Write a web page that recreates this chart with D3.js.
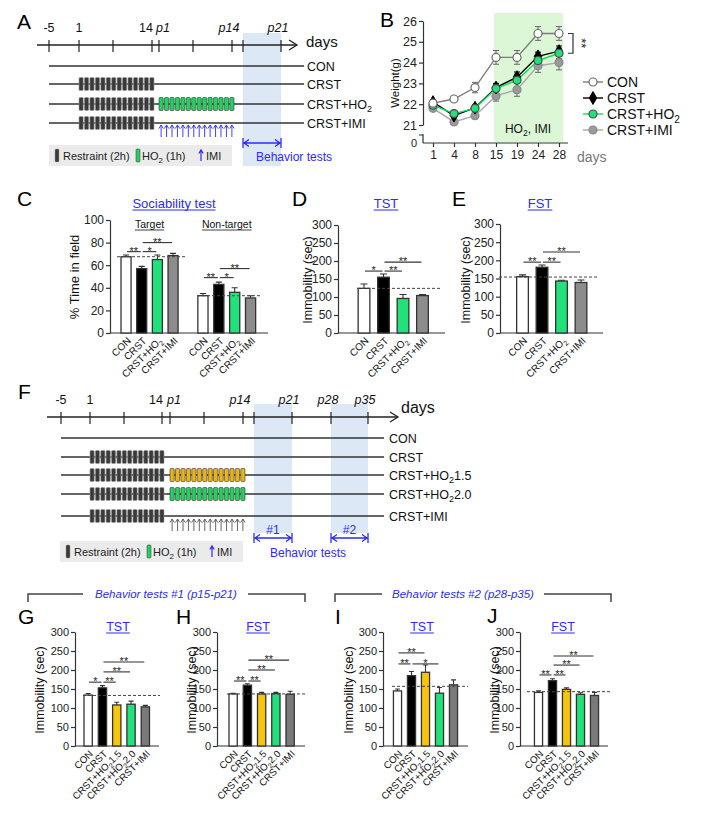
<!DOCTYPE html>
<html><head><meta charset="utf-8">
<script src="https://cdn.jsdelivr.net/npm/d3@7/dist/d3.min.js"></script>
<style>html,body{margin:0;padding:0;background:#fff}</style>
</head><body>
<svg id="fig" width="705" height="813" style="font-family:'Liberation Sans',Arial,sans-serif"></svg>
<script>
// ================= DATA =================
// Timelines (A, F): day axis (post days pN are coded as 14+N)
const aTickDays   = [-5, 1, 7, 14, 15, 22, 28, 29, 35];
const aTickLabels = ["-5", "1", "", "14", "p1", "", "p14", "", "p21"];
const aGroups     = ["CON", "CRST", "CRST+HO₂", "CRST+IMI"];
const aRestraintRows = [1, 2, 3];
const aTreatRows  = [{row: 2, kind: "HO2"}];
const aImiRows    = [3];
const aWindows    = [[29, 35]];
const aWindowLabels = [""];

const fTickDays   = [-5, 1, 7, 14, 15, 21, 28, 29, 35, 42, 49];
const fTickLabels = ["-5", "1", "", "14", "p1", "", "p14", "", "p21", "p28", "p35"];
const fGroups     = ["CON", "CRST", "CRST+HO₂1.5", "CRST+HO₂2.0", "CRST+IMI"];
const fRestraintRows = [1, 2, 3, 4];
const fTreatRows  = [{row: 2, kind: "HO2_15"}, {row: 3, kind: "HO2"}];
const fImiRows    = [4];
const fWindows    = [[29, 35], [42, 49]];
const fWindowLabels = ["#1", "#2"];

const restraintDays = [1, 2, 3, 4, 5, 6, 7, 8, 9, 10, 11, 12, 13, 14];
const treatDays     = [15, 16, 17, 18, 19, 20, 21, 22, 23, 24, 25, 26, 27, 28];

// Panel B: body weight
const bDays   = ["1", "4", "8", "15", "19", "24", "28"];
const bSeries = ["CON", "CRST", "CRST+HO₂", "CRST+IMI"];
const bCON    = [22.05, 22.25, 22.8, 24.25, 24.25, 25.4, 25.4];
const bCRST   = [22.1, 21.45, 21.83, 22.8, 23.3, 24.3, 24.55];
const bHO2    = [21.95, 21.55, 21.8, 22.75, 23.15, 24.1, 24.45];
const bIMI    = [21.8, 21.15, 21.45, 22.4, 22.7, 23.85, 24.0];
const bErrCON  = [0.1, 0.1, 0.25, 0.33, 0.33, 0.33, 0.33];
const bErrCRST = [0.12, 0.2, 0.15, 0.2, 0.25, 0.2, 0.25];
const bErrHO2  = [0.12, 0.15, 0.15, 0.2, 0.3, 0.25, 0.25];
const bErrIMI  = [0.1, 0.12, 0.15, 0.25, 0.32, 0.32, 0.35];
const bYTicks  = [21, 22, 23, 24, 25, 26];

// Panels C-E
const groups4 = ["CON", "CRST", "CRST+HO₂", "CRST+IMI"];
const cTarget    = [67.5, 57, 65, 68.5];
const cTargetErr = [1.5, 2, 4, 2];
const cNon       = [33, 43, 36, 31];
const cNonErr    = [2, 2, 4, 2];
const cTargetSig = [[0, 1, "**", 72], [1, 2, "*", 72], [1, 3, "**", 80]];
const cNonSig    = [[0, 1, "**", 49], [1, 2, "*", 49], [1, 3, "**", 57]];
const cTicks = [0, 20, 40, 60, 80, 100];
const dVals = [124, 155, 96, 104];
const dErr  = [12, 9, 11, 3];
const dSig  = [[0, 1, "*", 172], [1, 2, "**", 172], [1, 3, "**", 197]];
const dDash = 124;
const eVals = [155, 181, 143, 139];
const eErr  = [5, 6, 2, 7];
const eSig  = [[0, 1, "**", 195], [1, 2, "**", 195], [1, 3, "**", 223]];
const eDash = 154;
const immTicks = [0, 50, 100, 150, 200, 250, 300];

// Panels G-J
const groups5 = ["CON", "CRST", "CRST+HO₂1.5", "CRST+HO₂2.0", "CRST+IMI"];
const gVals = [134, 153, 108, 110, 103];
const gErr  = [4, 6, 7, 8, 4];
const gSig  = [[0, 1, "*", 168], [1, 2, "**", 168], [1, 3, "**", 195], [1, 4, "**", 221]];
const gDash = 133;
const hVals = [137, 160, 137, 138, 136];
const hErr  = [2, 4, 4, 3, 8];
const hSig  = [[0, 1, "**", 171], [1, 2, "**", 171], [1, 3, "**", 200], [1, 4, "**", 226]];
const hDash = 137;
const iVals = [145, 185, 194, 139, 161];
const iErr  = [5, 11, 19, 15, 13];
const iSig  = [[0, 1, "**", 216], [1, 3, "*", 216], [0, 2, "**", 245]];
const iDash = 157;
const jVals = [141, 172, 149, 136, 133];
const jErr  = [4, 5, 4, 4, 8];
const jSig  = [[0, 1, "**", 187], [1, 2, "**", 187], [1, 3, "**", 213], [1, 4, "**", 237]];
const jDash = 143;

// ================= STYLE =================
const BLUE = "#2b2bff";
const GREEN = "#22e07a";
const YELLOW = "#f7c60c";
const colors4 = ["#ffffff", "#000000", GREEN, "#8c8c8c"];
const colors5 = ["#ffffff", "#000000", YELLOW, GREEN, "#7a7a7a"];
const treatColor = {HO2: "#24d060", HO2_15: "#e8b416"};

const svg = d3.select("#fig");

function rich(t, str, fs) {
  const parts = str.split("₂");
  let shift = 0;
  parts.forEach((p, i) => {
    if (p) { const s = t.append("tspan").text(p); if (shift) { s.attr("dy", -shift); shift = 0; } }
    if (i < parts.length - 1) {
      const d = fs * 0.28;
      t.append("tspan").attr("font-size", fs * 0.72).attr("dy", d).text("2");
      shift = d;
    }
  });
}
function txt(g, x, y, str, o = {}) {
  const fs = o.fs || 12;
  const t = g.append("text").attr("x", x).attr("y", y).attr("font-size", fs)
    .attr("fill", o.fill || "#111").attr("text-anchor", o.anchor || "start");
  if (o.italic) t.attr("font-style", "italic");
  if (o.transform) t.attr("transform", o.transform);
  if (o.dy) t.attr("dy", o.dy);
  rich(t, str, fs);
  return t;
}
function underlineTitle(g, x, y, str, fs) {
  const t = txt(g, x, y, str, {fs, fill: BLUE, anchor: "middle"});
  const w = t.node().getComputedTextLength();
  g.append("line").attr("x1", x - w / 2).attr("x2", x + w / 2).attr("y1", y + 2).attr("y2", y + 2)
    .attr("stroke", BLUE).attr("stroke-width", 1);
}
function letter(x, y, s) { txt(svg, x, y, s, {fs: 21, fill: "#000"}); }
function upArrow(g, x, y0, y1, color, w) {
  g.append("path").attr("d", `M${x},${y1}V${y0}M${x - 2.2},${y0 + 3.5}L${x},${y0}L${x + 2.2},${y0 + 3.5}`)
    .attr("stroke", color).attr("stroke-width", w || 1).attr("fill", "none");
}
function dblArrow(g, x0, x1, y, color) {
  g.append("path").attr("d",
    `M${x0},${y - 5}V${y + 5}M${x1},${y - 5}V${y + 5}M${x0 + 1},${y}H${x1 - 1}` +
    `M${x0 + 6},${y - 3.5}L${x0 + 1},${y}L${x0 + 6},${y + 3.5}M${x1 - 6},${y - 3.5}L${x1 - 1},${y}L${x1 - 6},${y + 3.5}`)
    .attr("stroke", color).attr("stroke-width", 1.3).attr("fill", "none");
}

// ================= TIMELINES =================
function drawTimeline(L, T) {
  const g = svg.append("g");
  const x = d3.scaleLinear().domain(T.tickDays).range(L.range);
  T.windows.forEach(w => {
    g.append("rect").attr("x", x(w[0])).attr("y", L.winY[0]).attr("width", x(w[1]) - x(w[0]))
      .attr("height", L.winY[1] - L.winY[0]).attr("fill", "#dce8f5");
  });
  g.append("line").attr("x1", L.axisX0).attr("x2", L.axisX1).attr("y1", L.axisY).attr("y2", L.axisY)
    .attr("stroke", "#222").attr("stroke-width", 1.3);
  g.append("path").attr("d", `M${L.axisX1 - 8},${L.axisY - 5}L${L.axisX1},${L.axisY}L${L.axisX1 - 8},${L.axisY + 5}`)
    .attr("stroke", "#222").attr("stroke-width", 1.3).attr("fill", "none");
  T.tickDays.forEach((d, i) => {
    g.append("line").attr("x1", x(d)).attr("x2", x(d)).attr("y1", L.axisY - 5).attr("y2", L.axisY + 7)
      .attr("stroke", "#222").attr("stroke-width", 1.2);
    const lab = T.tickLabels[i];
    if (!lab) return;
    const isP = lab[0] === "p";
    let anchor = "middle", dx = 0;
    if (lab === "14") { anchor = "end"; dx = 1; }
    else if (lab === "p1") { anchor = "start"; dx = -3; }
    else if (isP) { dx = -3; }
    txt(g, x(d) + dx, L.labelY, lab, {fs: L.lblFs, anchor, italic: isP});
  });
  txt(g, L.daysX, L.daysY, "days", {fs: L.daysFs});
  const band1 = d3.scaleBand().domain(restraintDays).range([x(1), x(14) + 2]).paddingInner(0.22);
  const band2 = d3.scaleBand().domain(treatDays).range([x(15), x(28) + 2]).paddingInner(0.22);
  T.groups.forEach((name, r) => {
    const y = L.rowY[r];
    g.append("line").attr("x1", x(-5)).attr("x2", L.lineX1).attr("y1", y).attr("y2", y)
      .attr("stroke", "#333").attr("stroke-width", 1.3);
    txt(g, L.rowLabelX, y, name, {fs: L.rowFs, dy: "0.36em"});
  });
  T.restraintRows.forEach(r => {
    g.selectAll(null).data(restraintDays).enter().append("rect")
      .attr("x", d => band1(d)).attr("y", L.rowY[r] - L.blockH / 2)
      .attr("width", band1.bandwidth()).attr("height", L.blockH).attr("rx", 1)
      .attr("fill", "#3a3a3a").attr("stroke", "#999").attr("stroke-width", 0.6);
  });
  T.treatRows.forEach(tr => {
    g.selectAll(null).data(treatDays).enter().append("rect")
      .attr("x", d => band2(d)).attr("y", L.rowY[tr.row] - L.blockH / 2)
      .attr("width", band2.bandwidth()).attr("height", L.blockH).attr("rx", 1)
      .attr("fill", treatColor[tr.kind]).attr("stroke", "#333").attr("stroke-width", 0.6);
  });
  T.imiRows.forEach(() => {
    treatDays.forEach(d => upArrow(g, band2(d) + band2.bandwidth() / 2, L.arrowY[0], L.arrowY[1], L.arrowColor, 0.9));
  });
  T.windows.forEach((w, i) => {
    dblArrow(g, x(w[0]), x(w[1]), L.bArrowY, BLUE);
    if (T.windowLabels[i]) txt(g, (x(w[0]) + x(w[1])) / 2, L.wLabelY, T.windowLabels[i], {fs: 12, fill: BLUE, anchor: "middle"});
  });
  txt(g, L.btext[0], L.btext[1], "Behavior tests", {fs: 12, fill: BLUE, anchor: L.btext[2]});
  const lx = L.legend[0], ly = L.legend[1];
  g.append("rect").attr("x", lx).attr("y", ly).attr("width", 183).attr("height", 21).attr("fill", "#ebebeb");
  g.append("rect").attr("x", lx + 6).attr("y", ly + 4).attr("width", 4).attr("height", 13).attr("rx", 1)
    .attr("fill", "#3a3a3a").attr("stroke", "#999").attr("stroke-width", 0.5);
  txt(g, lx + 14, ly + 15, "Restraint (2h)", {fs: 11, fill: "#222"});
  g.append("rect").attr("x", lx + 87).attr("y", ly + 4).attr("width", 4).attr("height", 13).attr("rx", 1)
    .attr("fill", treatColor.HO2).attr("stroke", "#333").attr("stroke-width", 0.5);
  txt(g, lx + 93, ly + 15, "HO₂ (1h)", {fs: 11, fill: "#222"});
  upArrow(g, lx + 152, ly + 5, ly + 16, BLUE, 1.2);
  txt(g, lx + 157, ly + 15, "IMI", {fs: 11, fill: "#222"});
}

drawTimeline({
  range: [49, 79, 113, 152, 159, 193, 232, 243, 281],
  axisY: 45, axisX0: 37, axisX1: 297, labelY: 32, lblFs: 12.5,
  daysX: 306, daysY: 47, daysFs: 15, winY: [33, 166],
  rowY: [66, 84, 104, 123], lineX1: 304, rowLabelX: 307, rowFs: 12.5, blockH: 13,
  arrowY: [125, 137], arrowColor: BLUE, bArrowY: 143, wLabelY: 0,
  btext: [256, 161, "start"], legend: [49, 145]
}, {tickDays: aTickDays, tickLabels: aTickLabels, groups: aGroups, restraintRows: aRestraintRows,
    treatRows: aTreatRows, imiRows: aImiRows, windows: aWindows, windowLabels: aWindowLabels});

drawTimeline({
  range: [61, 90, 124, 162, 170, 204, 243, 254, 292, 331, 368],
  axisY: 417, axisX0: 47, axisX1: 398, labelY: 404, lblFs: 12.5,
  daysX: 401, daysY: 413, daysFs: 16, winY: [404, 533],
  rowY: [438, 457, 475, 494, 516], lineX1: 384, rowLabelX: 389, rowFs: 12.5, blockH: 13,
  arrowY: [519, 531], arrowColor: "#555", bArrowY: 538, wLabelY: 534,
  btext: [308, 557, "middle"], legend: [60, 541]
}, {tickDays: fTickDays, tickLabels: fTickLabels, groups: fGroups, restraintRows: fRestraintRows,
    treatRows: fTreatRows, imiRows: fImiRows, windows: fWindows, windowLabels: fWindowLabels});

letter(17, 29, "A");
letter(18, 399, "F");

// ================= PANEL B =================
(function () {
  const g = svg.append("g");
  const x = d3.scalePoint().domain(bDays).range([433, 559]);
  const y = d3.scaleLinear().domain([21, 26]).range([125, 21]);
  g.append("rect").attr("x", 494).attr("y", 13).attr("width", 69).attr("height", 129).attr("fill", "#dcf7d6");
  txt(g, 528, 133, "HO₂, IMI", {fs: 12, anchor: "middle"});
  const ya = g.append("g").attr("transform", "translate(423,0)")
    .call(d3.axisLeft(y).tickValues(bYTicks).tickFormat(d3.format("d")).tickSize(4).tickSizeOuter(0).tickPadding(2));
  ya.selectAll("text").attr("font-size", 12.5).attr("fill", "#222").attr("font-family", null);
  ya.selectAll("line,path").attr("stroke", "#333").attr("stroke-width", 1.2);
  g.append("path").attr("d", "M423,134V143M419,135H423").attr("stroke", "#333").attr("stroke-width", 1.2).attr("fill", "none");
  txt(g, 417, 147, "0", {fs: 11, anchor: "end", fill: "#222"});
  g.append("line").attr("x1", 423).attr("x2", 568).attr("y1", 143).attr("y2", 143).attr("stroke", "#333").attr("stroke-width", 1.2);
  const xa = g.append("g").attr("transform", "translate(0,143)")
    .call(d3.axisBottom(x).tickSize(4).tickSizeOuter(0).tickPadding(3));
  xa.select(".domain").remove();
  xa.selectAll("text").attr("font-size", 12).attr("fill", "#222").attr("font-family", null);
  xa.selectAll("line").attr("stroke", "#333").attr("stroke-width", 1.2);
  txt(g, 577, 162, "days", {fs: 14, fill: "#777"});
  txt(g, 0, 0, "Weight(g)", {fs: 11.5, anchor: "middle", transform: "translate(399,83) rotate(-90)"});

  const series = [
    {name: bSeries[3], v: bIMI, e: bErrIMI, line: "#a8a8a8", fill: "#9a9a9a", stroke: "#888", sym: "circle"},
    {name: bSeries[1], v: bCRST, e: bErrCRST, line: "#000", fill: "#000", stroke: "#000", sym: "diamond"},
    {name: bSeries[2], v: bHO2, e: bErrHO2, line: "#10dd5a", fill: "#22e07a", stroke: "#4a4a4a", sym: "circle"},
    {name: bSeries[0], v: bCON, e: bErrCON, line: "#7a7a7a", fill: "#fff", stroke: "#6a6a6a", sym: "circle"}
  ];
  const line = d3.line().x((d, i) => x(bDays[i])).y(d => y(d));
  function marker(sel, s, cx, cy) {
    if (s.sym === "diamond") {
      sel.append("path").attr("d", d3.symbol(d3.symbolDiamond, 48)()).attr("transform", `translate(${cx},${cy})`)
        .attr("fill", s.fill).attr("stroke", s.stroke);
    } else {
      sel.append("circle").attr("cx", cx).attr("cy", cy).attr("r", 4).attr("fill", s.fill)
        .attr("stroke", s.stroke).attr("stroke-width", 1.2);
    }
  }
  series.forEach(s => {
    s.v.forEach((v, i) => {
      const cx = x(bDays[i]);
      g.append("path").attr("d", `M${cx},${y(v - s.e[i])}V${y(v + s.e[i])}M${cx - 3},${y(v - s.e[i])}H${cx + 3}M${cx - 3},${y(v + s.e[i])}H${cx + 3}`)
        .attr("stroke", s.stroke === "#000" ? "#000" : "#666").attr("stroke-width", 1).attr("fill", "none");
    });
    g.append("path").datum(s.v).attr("d", line).attr("fill", "none").attr("stroke", s.line).attr("stroke-width", 1.4);
  });
  series.forEach(s => s.v.forEach((v, i) => marker(g, s, x(bDays[i]), y(v))));
  g.append("path").attr("d", `M568,${y(25.4)}H573V${y(24.45)}H568`).attr("stroke", "#333").attr("stroke-width", 1.2).attr("fill", "none");
  txt(g, 0, 0, "**", {fs: 13, anchor: "middle", fill: "#223", transform: `translate(577,${(y(25.4) + y(24.45)) / 2}) rotate(90)`});
  const legOrder = [series[3], series[1], series[2], series[0]];
  legOrder.forEach((s, i) => {
    const ly = 82 + i * 16;
    g.append("line").attr("x1", 583).attr("x2", 603).attr("y1", ly).attr("y2", ly).attr("stroke", s.line).attr("stroke-width", 1.4);
    marker(g, s, 593, ly);
    txt(g, 607, ly + 5, s.name, {fs: 14, fill: "#111"});
  });
  letter(380, 27, "B");
})();

// ================= BAR PANELS =================
function barPanel(P, D) {
  const g = svg.append("g");
  const y = d3.scaleLinear().domain([0, P.yMax]).range([P.y0, P.yTop]);
  const ya = g.append("g").attr("transform", `translate(${P.axisX},0)`)
    .call(d3.axisLeft(y).tickValues(P.ticks).tickFormat(d3.format("d")).tickSize(4).tickSizeOuter(0).tickPadding(2));
  ya.selectAll("text").attr("font-size", P.tickFs).attr("fill", "#222").attr("font-family", null);
  ya.selectAll("line,path").attr("stroke", "#333").attr("stroke-width", 1.2);
  g.append("line").attr("x1", P.axisX).attr("x2", P.axisEnd).attr("y1", P.y0).attr("y2", P.y0)
    .attr("stroke", "#333").attr("stroke-width", 1.2);
  D.groups.forEach((grp, gi) => {
    const x = d3.scaleBand().domain(grp.cats).range(P.ranges[gi]).paddingInner(P.pad).paddingOuter(P.pad / 2);
    const bw = x.bandwidth();
    const cx = i => x(grp.cats[i]) + bw / 2;
    grp.vals.forEach((v, i) => {
      const xc = cx(i);
      g.append("path").attr("d", `M${xc},${y(v)}V${y(v + grp.errs[i])}M${xc - bw * 0.3},${y(v + grp.errs[i])}H${xc + bw * 0.3}`)
        .attr("stroke", "#333").attr("stroke-width", 1.1).attr("fill", "none");
    });
    g.selectAll(null).data(grp.vals).enter().append("rect")
      .attr("x", (d, i) => x(grp.cats[i])).attr("y", d => y(d))
      .attr("width", bw).attr("height", d => P.y0 - y(d))
      .attr("fill", (d, i) => D.colors[i]).attr("stroke", "#333").attr("stroke-width", 1.3);
    g.append("line").attr("x1", P.dash[gi][0]).attr("x2", P.dash[gi][1]).attr("y1", y(grp.dash)).attr("y2", y(grp.dash))
      .attr("stroke", "#444").attr("stroke-width", 1).attr("stroke-dasharray", "3,2");
    grp.sigs.forEach(s => {
      const x1 = cx(s[0]) + 1, x2 = cx(s[1]) - 1, yy = y(s[3]);
      g.append("line").attr("x1", x1).attr("x2", x2).attr("y1", yy).attr("y2", yy).attr("stroke", "#333").attr("stroke-width", 1.1);
      txt(g, (x1 + x2) / 2, yy + 3, s[2], {fs: 11, anchor: "middle", fill: "#222"});
    });
    grp.cats.forEach((c, i) => {
      txt(g, 0, 0, c, {fs: P.lblFs, anchor: "end", dy: "0.35em", fill: "#111",
        transform: `translate(${cx(i) + 3},${P.y0 + 6}) rotate(-45)`});
    });
    if (grp.sub) {
      const mid = (P.ranges[gi][0] + P.ranges[gi][1]) / 2;
      const t = txt(g, mid, P.subY, grp.sub, {fs: 10.5, anchor: "middle"});
      const w = t.node().getComputedTextLength();
      g.append("line").attr("x1", mid - w / 2).attr("x2", mid + w / 2).attr("y1", P.subY + 2).attr("y2", P.subY + 2)
        .attr("stroke", "#111").attr("stroke-width", 0.8);
    }
  });
  underlineTitle(g, P.title[1], P.title[2], P.title[0], P.titleFs);
  txt(g, 0, 0, P.ylabel, {fs: P.ylabFs, anchor: "middle", dy: "0.35em",
    transform: `translate(${P.ylab[0]},${P.ylab[1]}) rotate(-90)`});
  letter(P.letter[1], P.letter[2], P.letter[0]);
}

// C
barPanel({yMax: 100, y0: 333, yTop: 220, axisX: 110, axisEnd: 268, ticks: cTicks, tickFs: 12,
  ranges: [[118.2, 180.9], [195, 258.5]], pad: 0.36, dash: [[117, 185], [197, 260]],
  lblFs: 10, subY: 228, title: ["Sociability test", 174, 208], titleFs: 13,
  ylabel: "% Time in field", ylabFs: 13, ylab: [74, 277], letter: ["C", 17, 206]},
  {colors: colors4, groups: [
    {cats: groups4, vals: cTarget, errs: cTargetErr, sigs: cTargetSig, dash: cTarget[0], sub: "Target"},
    {cats: groups4, vals: cNon, errs: cNonErr, sigs: cNonSig, dash: cNon[0], sub: "Non-target"}]});
// D
barPanel({yMax: 300, y0: 333, yTop: 225, axisX: 338, axisEnd: 445, ticks: immTicks, tickFs: 12,
  ranges: [[354.25, 432.25]], pad: 0.4, dash: [[357, 442]], lblFs: 10,
  title: ["TST", 386, 208], titleFs: 13, ylabel: "Immobility (sec)", ylabFs: 12.5, ylab: [308, 280],
  letter: ["D", 292, 206]},
  {colors: colors4, groups: [{cats: groups4, vals: dVals, errs: dErr, sigs: dSig, dash: dDash}]});
// E
barPanel({yMax: 300, y0: 333, yTop: 224, axisX: 500, axisEnd: 603, ticks: immTicks, tickFs: 12,
  ranges: [[512.75, 590.75]], pad: 0.4, dash: [[499, 598]], lblFs: 10,
  title: ["FST", 540, 208], titleFs: 13, ylabel: "Immobility (sec)", ylabFs: 12.5, ylab: [466, 280],
  letter: ["E", 452, 206]},
  {colors: colors4, groups: [{cats: groups4, vals: eVals, errs: eErr, sigs: eSig, dash: eDash}]});

// brackets over G-J
(function () {
  const g = svg.append("g");
  g.append("path").attr("d", "M28,602V594H83M248,594H305V602M335,602V594H382M544,594H611V602")
    .attr("stroke", "#444").attr("stroke-width", 1.5).attr("fill", "none");
  txt(g, 166, 598, "Behavior tests #1 (p15-p21)", {fs: 11.5, italic: true, fill: BLUE, anchor: "middle"});
  txt(g, 463, 598, "Behavior tests #2 (p28-p35)", {fs: 11.5, italic: true, fill: BLUE, anchor: "middle"});
})();

const gjCommon = {yMax: 300, y0: 746, yTop: 632, ticks: immTicks, tickFs: 11, pad: 0.42, lblFs: 9.8,
  titleFs: 12.5, ylabel: "Immobility (sec)", ylabFs: 12.5};
barPanel(Object.assign({}, gjCommon, {axisX: 75, axisEnd: 159, ranges: [[81, 152.5]], dash: [[83, 160]],
  title: ["TST", 118, 631], ylab: [40, 690], letter: ["G", 18, 624]}),
  {colors: colors5, groups: [{cats: groups5, vals: gVals, errs: gErr, sigs: gSig, dash: gDash}]});
barPanel(Object.assign({}, gjCommon, {axisX: 217, axisEnd: 305, ranges: [[226, 297.25]], dash: [[227, 305]],
  title: ["FST", 258, 631], ylab: [192, 690], letter: ["H", 176, 624]}),
  {colors: colors5, groups: [{cats: groups5, vals: hVals, errs: hErr, sigs: hSig, dash: hDash}]});
barPanel(Object.assign({}, gjCommon, {axisX: 383, axisEnd: 468, ranges: [[390.5, 460.5]], dash: [[392, 468]],
  title: ["TST", 422, 631], ylab: [349, 690], letter: ["I", 335, 624]}),
  {colors: colors5, groups: [{cats: groups5, vals: iVals, errs: iErr, sigs: iSig, dash: iDash}]});
barPanel(Object.assign({}, gjCommon, {axisX: 520, axisEnd: 608, ranges: [[531.5, 601.5]], dash: [[527, 610]],
  title: ["FST", 563, 631], ylab: [495, 690], letter: ["J", 487, 623]}),
  {colors: colors5, groups: [{cats: groups5, vals: jVals, errs: jErr, sigs: jSig, dash: jDash}]});
</script>
</body></html>
